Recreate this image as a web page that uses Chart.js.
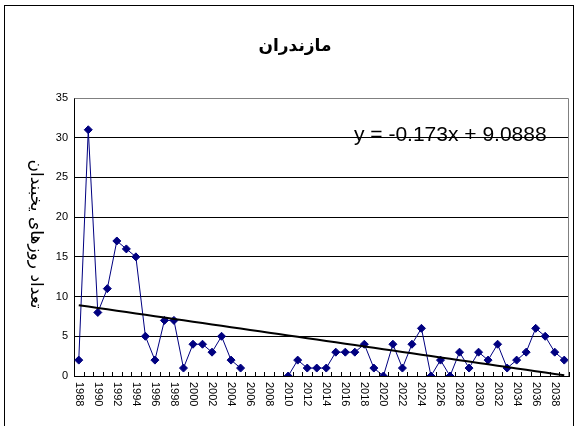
<!DOCTYPE html>
<html>
<head>
<meta charset="utf-8">
<script src="https://cdn.jsdelivr.net/npm/chart.js@4/dist/chart.umd.min.js"></script>
<style>
  html,body{margin:0;padding:0;background:#fff;}
  #wrap{width:575px;height:426px;position:relative;}
</style>
</head>
<body>
<div id="wrap"><canvas id="c" width="575" height="426"></canvas></div>
<script>
const titleText = "مازندران";
const yTitleText = "تعداد روزهای یخبندان";
const equationText = "y = -0.173x + 9.0888";
const trendSlope = -0.173;
const trendIntercept = 9.0888;

const years = [1988,1989,1990,1991,1992,1993,1994,1995,1996,1997,1998,1999,
  2000,2001,2002,2003,2004,2005,2006,2007,2008,2009,2010,2011,2012,2013,2014,
  2015,2016,2017,2018,2019,2020,2021,2022,2023,2024,2025,2026,2027,2028,2029,
  2030,2031,2032,2033,2034,2035,2036,2037,2038,2039];
const frostDays = [2,31,8,11,17,16,15,5,2,7,7,1,
  4,4,3,5,2,1,null,null,null,null,0,2,1,1,1,
  3,3,3,4,1,0,4,1,4,6,0,2,0,3,1,
  3,2,4,1,2,3,6,5,3,2];
const yTicks = [0,5,10,15,20,25,30,35];

const trend = years.map((y,i) => trendSlope*(i+1) + trendIntercept);

const decor = {
  id: 'decor',
  beforeDraw(chart) {
    const ctx = chart.ctx;
    ctx.save();
    ctx.fillStyle = '#fff';
    ctx.fillRect(0,0,chart.width,chart.height);
    ctx.strokeStyle = '#000';
    ctx.lineWidth = 1;
    ctx.strokeRect(4.5,5.5,569,440);
    ctx.restore();
  },
  afterDraw(chart) {
    const ctx = chart.ctx;
    const ca = chart.chartArea;
    const xs = chart.scales.x;
    ctx.save();
    ctx.strokeStyle = '#808080';
    ctx.lineWidth = 1;
    ctx.beginPath();
    ctx.moveTo(Math.round(ca.left)+0.5, Math.round(ca.top)+0.5);
    ctx.lineTo(Math.round(ca.right)-0.5, Math.round(ca.top)+0.5);
    ctx.lineTo(Math.round(ca.right)-0.5, Math.round(ca.bottom));
    ctx.stroke();
    ctx.strokeStyle = '#000';
    const step = xs.getPixelForValue(1) - xs.getPixelForValue(0);
    ctx.beginPath();
    for (let i = 0; i <= years.length; i++) {
      const px = Math.round(xs.getPixelForValue(i) - step/2) + 0.5;
      ctx.moveTo(px, Math.round(ca.bottom));
      ctx.lineTo(px, Math.round(ca.bottom) - 4);
    }
    ctx.stroke();
    ctx.fillStyle = '#000';
    ctx.font = '11px "Liberation Sans", Arial, sans-serif';
    ctx.textAlign = 'left';
    ctx.textBaseline = 'middle';
    years.forEach((y,i) => {
      if (y % 2 !== 0) return;
      const px = xs.getPixelForValue(i);
      ctx.save();
      ctx.translate(px, ca.bottom + 6);
      ctx.rotate(Math.PI/2);
      ctx.fillText(String(y), 0, 0);
      ctx.restore();
    });
    ctx.font = 'bold 17px "DejaVu Sans", sans-serif';
    ctx.textAlign = 'center';
    ctx.textBaseline = 'alphabetic';
    ctx.fillText(titleText, 295, 51);
    ctx.save();
    ctx.translate(35, 234);
    ctx.rotate(Math.PI/2);
    ctx.font = '17px "DejaVu Sans", sans-serif';
    ctx.textAlign = 'center';
    ctx.textBaseline = 'middle';
    ctx.fillText(yTitleText, 0, 0);
    ctx.restore();
    ctx.font = '21px "Liberation Sans", Arial, sans-serif';
    ctx.textAlign = 'left';
    ctx.textBaseline = 'alphabetic';
    ctx.fillText(equationText, 354, 141);
    ctx.restore();
  }
};

new Chart(document.getElementById('c'), {
  type: 'line',
  data: {
    labels: years.map(String),
    datasets: [
      {
        data: frostDays,
        borderColor: '#000080',
        backgroundColor: '#000080',
        borderWidth: 1,
        pointStyle: 'rectRot',
        pointRadius: 4,
        pointHoverRadius: 4,
        spanGaps: false,
        tension: 0,
        order: 2
      },
      {
        data: trend,
        borderColor: '#000',
        borderWidth: 2,
        pointRadius: 0,
        tension: 0,
        order: 1
      }
    ]
  },
  plugins: [decor],
  options: {
    responsive: false,
    animation: false,
    events: [],
    layout: { padding: { left: 0, top: 98, right: 6, bottom: 0 } },
    plugins: { legend: { display: false }, title: { display: false }, tooltip: { enabled: false } },
    scales: {
      x: {
        type: 'category',
        offset: true,
        afterFit: s => { s.height = 50; },
        ticks: { display: false },
        grid: { display: true, drawOnChartArea: false, drawTicks: false },
        border: { color: '#000', width: 1 }
      },
      y: {
        min: 0, max: 35,
        afterFit: s => { s.width = 74; },
        afterBuildTicks: s => { s.ticks = yTicks.map(v => ({ value: v })); },
        ticks: {
          color: '#000',
          font: { family: '"Liberation Sans", Arial, sans-serif', size: 11 },
          padding: 6
        },
        grid: {
          color: ctx => (ctx.tick && ctx.tick.value === 35) ? 'rgba(0,0,0,0)' : '#000',
          lineWidth: 1,
          drawTicks: false
        },
        border: { color: '#000', width: 1 }
      }
    }
  }
});
</script>
</body>
</html>
